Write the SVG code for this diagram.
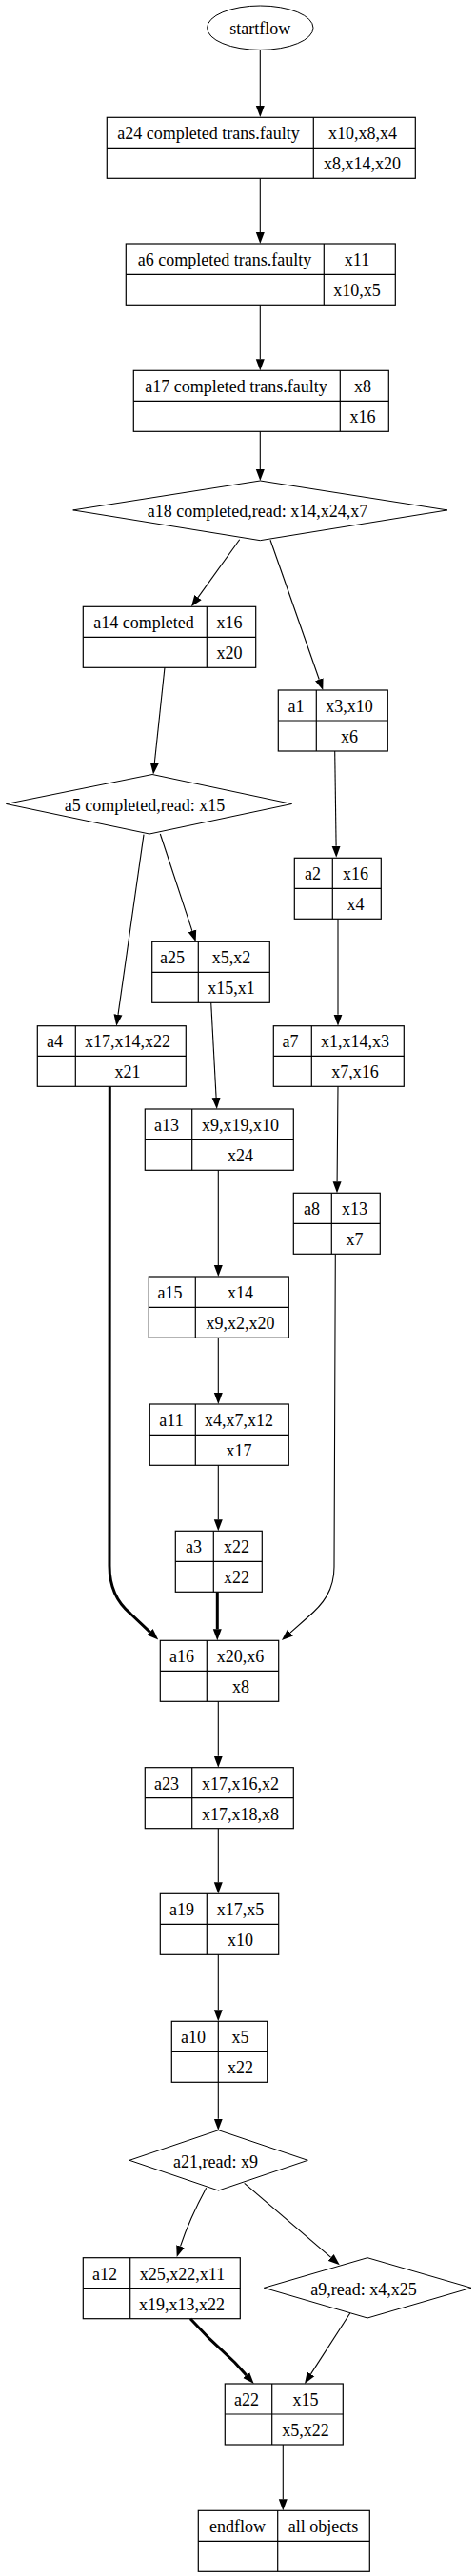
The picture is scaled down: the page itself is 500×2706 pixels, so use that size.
<svg xmlns="http://www.w3.org/2000/svg" width="500" height="2706" viewBox="0 0 500 2706">
<style>
rect.b{fill:none;stroke:#000;stroke-width:1.2}
line.d{stroke:#000;stroke-width:1.2}
polygon.dm,ellipse.el{fill:none;stroke:#000;stroke-width:1}
text{font-family:"Liberation Serif","Times New Roman",serif;font-size:18px;fill:#000;text-anchor:middle}
#edges path{fill:none;stroke:#000;stroke-width:1.1;marker-end:url(#ah)}
#edges path.bold{stroke-width:3}
</style>
<defs>
<marker id="ah" markerUnits="userSpaceOnUse" viewBox="0 -5 12 10" refX="0" refY="0" markerWidth="12" markerHeight="10" orient="auto">
<path d="M0,-4.5 L12,0 L0,4.5 z" fill="#000"/>
</marker>
</defs>
<rect width="500" height="2706" fill="#fff"/>
<g id="edges">
<path d="M273.3,52.4 L273.3,111"/>
<path d="M273.3,187.3 L273.3,244"/>
<path d="M273.3,320.3 L273.3,377.3"/>
<path d="M273.3,453.3 L273.3,493"/>
<path d="M251.7,566.7 L208,627.6"/>
<path d="M284,567.3 L335.3,713.7"/>
<path d="M173,701.3 L162.3,801.5"/>
<path d="M351.7,789 L353.1,888.8"/>
<path d="M151,876.7 L124,1065.8"/>
<path d="M168.3,876 L201.9,977.9"/>
<path d="M355,965.3 L355,1065.7"/>
<path d="M221.7,1053.3 L227.1,1153"/>
<path d="M355,1141.3 L354.5,1195 L354.1,1241.3"/>
<path d="M229.3,1229.3 L229.3,1329"/>
<path d="M229.3,1405.3 L229.3,1463"/>
<path d="M229.3,1539.3 L229.3,1596.3"/>
<path class="bold" d="M228.3,1672.3 L228.3,1711.3"/>
<path class="bold" d="M115.3,1141.3 L115,1645 C115,1670 125,1685 137,1695 L157.5,1714.3"/>
<path d="M352.3,1317.3 L351,1646 C351,1670 340,1685 322,1700 L304.9,1715.1"/>
<path d="M229.3,1787.3 L229.3,1844.7"/>
<path d="M229.3,1920.7 L229.3,1977.3"/>
<path d="M229.3,2053.3 L229.3,2111.3"/>
<path d="M229.3,2187.3 L229.3,2225.7"/>
<path d="M216.7,2298.3 C205,2320 196,2340 189.5,2359.6"/>
<path d="M256.7,2293.3 L347.7,2371.4"/>
<path class="bold" d="M200,2435.7 L220,2456.7 L246.7,2481.7 L258.7,2495.1"/>
<path d="M367.7,2430 L326.5,2493.9"/>
<path d="M297.3,2568 L297.3,2625.3"/>
</g>
<g id="startflow">
<ellipse class="el" cx="273.3" cy="29.2" rx="55.7" ry="23.2"/>
<text x="273.3" y="36">startflow</text>
</g>
<g id="a24">
<rect class="b" x="112.3" y="123.3" width="324" height="64"/>
<line class="d" x1="329.3" y1="123.3" x2="329.3" y2="187.3"/>
<line class="d" x1="112.3" y1="155.3" x2="436.3" y2="155.3"/>
<text x="219" y="146">a24 completed trans.faulty</text>
<text x="381" y="146">x10,x8,x4</text>
<text x="380.5" y="178">x8,x14,x20</text>
</g>
<g id="a6">
<rect class="b" x="132.3" y="256" width="283" height="64.3"/>
<line class="d" x1="340.3" y1="256" x2="340.3" y2="320.3"/>
<line class="d" x1="132.3" y1="288.3" x2="415.3" y2="288.3"/>
<text x="236" y="279">a6 completed trans.faulty</text>
<text x="375" y="279">x11</text>
<text x="375" y="311">x10,x5</text>
</g>
<g id="a17">
<rect class="b" x="140.3" y="389.3" width="268" height="64"/>
<line class="d" x1="357.3" y1="389.3" x2="357.3" y2="453.3"/>
<line class="d" x1="140.3" y1="421.3" x2="408.3" y2="421.3"/>
<text x="248" y="412">a17 completed trans.faulty</text>
<text x="381" y="412">x8</text>
<text x="381" y="444">x16</text>
</g>
<g id="a18">
<polygon class="dm" points="273.3,505 470,535.9 273.3,567.7 76.7,535.9"/>
<text x="270.5" y="543">a18 completed,read: x14,x24,x7</text>
</g>
<g id="a14">
<rect class="b" x="87.3" y="637.3" width="181.4" height="64"/>
<line class="d" x1="217.3" y1="637.3" x2="217.3" y2="701.3"/>
<line class="d" x1="87.3" y1="669.3" x2="268.7" y2="669.3"/>
<text x="151" y="660">a14 completed</text>
<text x="241" y="660">x16</text>
<text x="241" y="692">x20</text>
</g>
<g id="a1">
<rect class="b" x="292.3" y="725" width="115" height="64"/>
<line class="d" x1="332.3" y1="725" x2="332.3" y2="789"/>
<line class="d" x1="292.3" y1="757" x2="407.3" y2="757"/>
<text x="311" y="748">a1</text>
<text x="367" y="748">x3,x10</text>
<text x="367" y="780">x6</text>
</g>
<g id="a5">
<polygon class="dm" points="160,813.5 306.5,844.5 157,876 6.5,844.5"/>
<text x="152" y="852">a5 completed,read: x15</text>
</g>
<g id="a2">
<rect class="b" x="309.3" y="901.3" width="91" height="64"/>
<line class="d" x1="349.3" y1="901.3" x2="349.3" y2="965.3"/>
<line class="d" x1="309.3" y1="933.3" x2="400.3" y2="933.3"/>
<text x="328.5" y="924">a2</text>
<text x="373.5" y="924">x16</text>
<text x="373.5" y="956">x4</text>
</g>
<g id="a25">
<rect class="b" x="159.7" y="989.3" width="123.6" height="64"/>
<line class="d" x1="208.3" y1="989.3" x2="208.3" y2="1053.3"/>
<line class="d" x1="159.7" y1="1021.3" x2="283.3" y2="1021.3"/>
<text x="181" y="1012">a25</text>
<text x="243" y="1012">x5,x2</text>
<text x="243" y="1044">x15,x1</text>
</g>
<g id="a4">
<rect class="b" x="39.3" y="1077.7" width="156" height="63.6"/>
<line class="d" x1="79.3" y1="1077.7" x2="79.3" y2="1141.3"/>
<line class="d" x1="39.3" y1="1109.3" x2="195.3" y2="1109.3"/>
<text x="57.5" y="1100">a4</text>
<text x="134" y="1100">x17,x14,x22</text>
<text x="134" y="1132">x21</text>
</g>
<g id="a7">
<rect class="b" x="287.3" y="1077.7" width="137" height="63.6"/>
<line class="d" x1="327.3" y1="1077.7" x2="327.3" y2="1141.3"/>
<line class="d" x1="287.3" y1="1109.3" x2="424.3" y2="1109.3"/>
<text x="305" y="1100">a7</text>
<text x="373" y="1100">x1,x14,x3</text>
<text x="373" y="1132">x7,x16</text>
</g>
<g id="a13">
<rect class="b" x="152.3" y="1165" width="156" height="64.3"/>
<line class="d" x1="201.7" y1="1165" x2="201.7" y2="1229.3"/>
<line class="d" x1="152.3" y1="1197.3" x2="308.3" y2="1197.3"/>
<text x="175" y="1188">a13</text>
<text x="252.5" y="1188">x9,x19,x10</text>
<text x="252.5" y="1220">x24</text>
</g>
<g id="a8">
<rect class="b" x="308.3" y="1253.3" width="91" height="64"/>
<line class="d" x1="348.3" y1="1253.3" x2="348.3" y2="1317.3"/>
<line class="d" x1="308.3" y1="1285.3" x2="399.3" y2="1285.3"/>
<text x="327.5" y="1276">a8</text>
<text x="372.5" y="1276">x13</text>
<text x="372.5" y="1308">x7</text>
</g>
<g id="a15">
<rect class="b" x="156.3" y="1341" width="147" height="64.3"/>
<line class="d" x1="205.3" y1="1341" x2="205.3" y2="1405.3"/>
<line class="d" x1="156.3" y1="1373.3" x2="303.3" y2="1373.3"/>
<text x="178.5" y="1364">a15</text>
<text x="252.5" y="1364">x14</text>
<text x="252.5" y="1396">x9,x2,x20</text>
</g>
<g id="a11">
<rect class="b" x="157.3" y="1475" width="146" height="64.3"/>
<line class="d" x1="205.3" y1="1475" x2="205.3" y2="1539.3"/>
<line class="d" x1="157.3" y1="1507.3" x2="303.3" y2="1507.3"/>
<text x="180" y="1498">a11</text>
<text x="251" y="1498">x4,x7,x12</text>
<text x="251" y="1530">x17</text>
</g>
<g id="a3">
<rect class="b" x="184.3" y="1608.3" width="91" height="64"/>
<line class="d" x1="224.3" y1="1608.3" x2="224.3" y2="1672.3"/>
<line class="d" x1="184.3" y1="1640.3" x2="275.3" y2="1640.3"/>
<text x="203.5" y="1631">a3</text>
<text x="248.5" y="1631">x22</text>
<text x="248.5" y="1663">x22</text>
</g>
<g id="a16">
<rect class="b" x="168.3" y="1723.3" width="124.4" height="64"/>
<line class="d" x1="217.3" y1="1723.3" x2="217.3" y2="1787.3"/>
<line class="d" x1="168.3" y1="1755.3" x2="292.7" y2="1755.3"/>
<text x="191" y="1746">a16</text>
<text x="252.5" y="1746">x20,x6</text>
<text x="253" y="1778">x8</text>
</g>
<g id="a23">
<rect class="b" x="152.3" y="1856.7" width="156" height="64"/>
<line class="d" x1="201.7" y1="1856.7" x2="201.7" y2="1920.7"/>
<line class="d" x1="152.3" y1="1888.7" x2="308.3" y2="1888.7"/>
<text x="175" y="1879.5">a23</text>
<text x="252.5" y="1879.5">x17,x16,x2</text>
<text x="252.5" y="1911.5">x17,x18,x8</text>
</g>
<g id="a19">
<rect class="b" x="168.3" y="1989.3" width="124.4" height="64"/>
<line class="d" x1="217.3" y1="1989.3" x2="217.3" y2="2053.3"/>
<line class="d" x1="168.3" y1="2021.3" x2="292.7" y2="2021.3"/>
<text x="191" y="2012">a19</text>
<text x="252.5" y="2012">x17,x5</text>
<text x="252.5" y="2044">x10</text>
</g>
<g id="a10">
<rect class="b" x="180.3" y="2123.3" width="100.4" height="64"/>
<line class="d" x1="229.3" y1="2123.3" x2="229.3" y2="2187.3"/>
<line class="d" x1="180.3" y1="2155.3" x2="280.7" y2="2155.3"/>
<text x="203" y="2146">a10</text>
<text x="252.5" y="2146">x5</text>
<text x="252.5" y="2178">x22</text>
</g>
<g id="a21">
<polygon class="dm" points="229.5,2237.7 323.3,2269.3 229.5,2301 136,2269.3"/>
<text x="226.5" y="2276.5">a21,read: x9</text>
</g>
<g id="a12">
<rect class="b" x="87.3" y="2371.7" width="165" height="64"/>
<line class="d" x1="136.7" y1="2371.7" x2="136.7" y2="2435.7"/>
<line class="d" x1="87.3" y1="2403.7" x2="252.3" y2="2403.7"/>
<text x="110" y="2394.5">a12</text>
<text x="191.5" y="2394.5">x25,x22,x11</text>
<text x="191" y="2426.5">x19,x13,x22</text>
</g>
<g id="a9">
<polygon class="dm" points="386,2371.7 495,2403.3 386,2435 277.3,2403.3"/>
<text x="382" y="2411">a9,read: x4,x25</text>
</g>
<g id="a22">
<rect class="b" x="236.3" y="2504" width="124" height="64"/>
<line class="d" x1="285.7" y1="2504" x2="285.7" y2="2568"/>
<line class="d" x1="236.3" y1="2536" x2="360.3" y2="2536"/>
<text x="259" y="2527">a22</text>
<text x="321" y="2527">x15</text>
<text x="321" y="2559">x5,x22</text>
</g>
<g id="endflow">
<rect class="b" x="208.3" y="2637.3" width="180" height="64"/>
<line class="d" x1="291.7" y1="2637.3" x2="291.7" y2="2701.3"/>
<line class="d" x1="208.3" y1="2669.3" x2="388.3" y2="2669.3"/>
<text x="249.5" y="2660">endflow</text>
<text x="339.5" y="2660">all objects</text>
</g>
</svg>
